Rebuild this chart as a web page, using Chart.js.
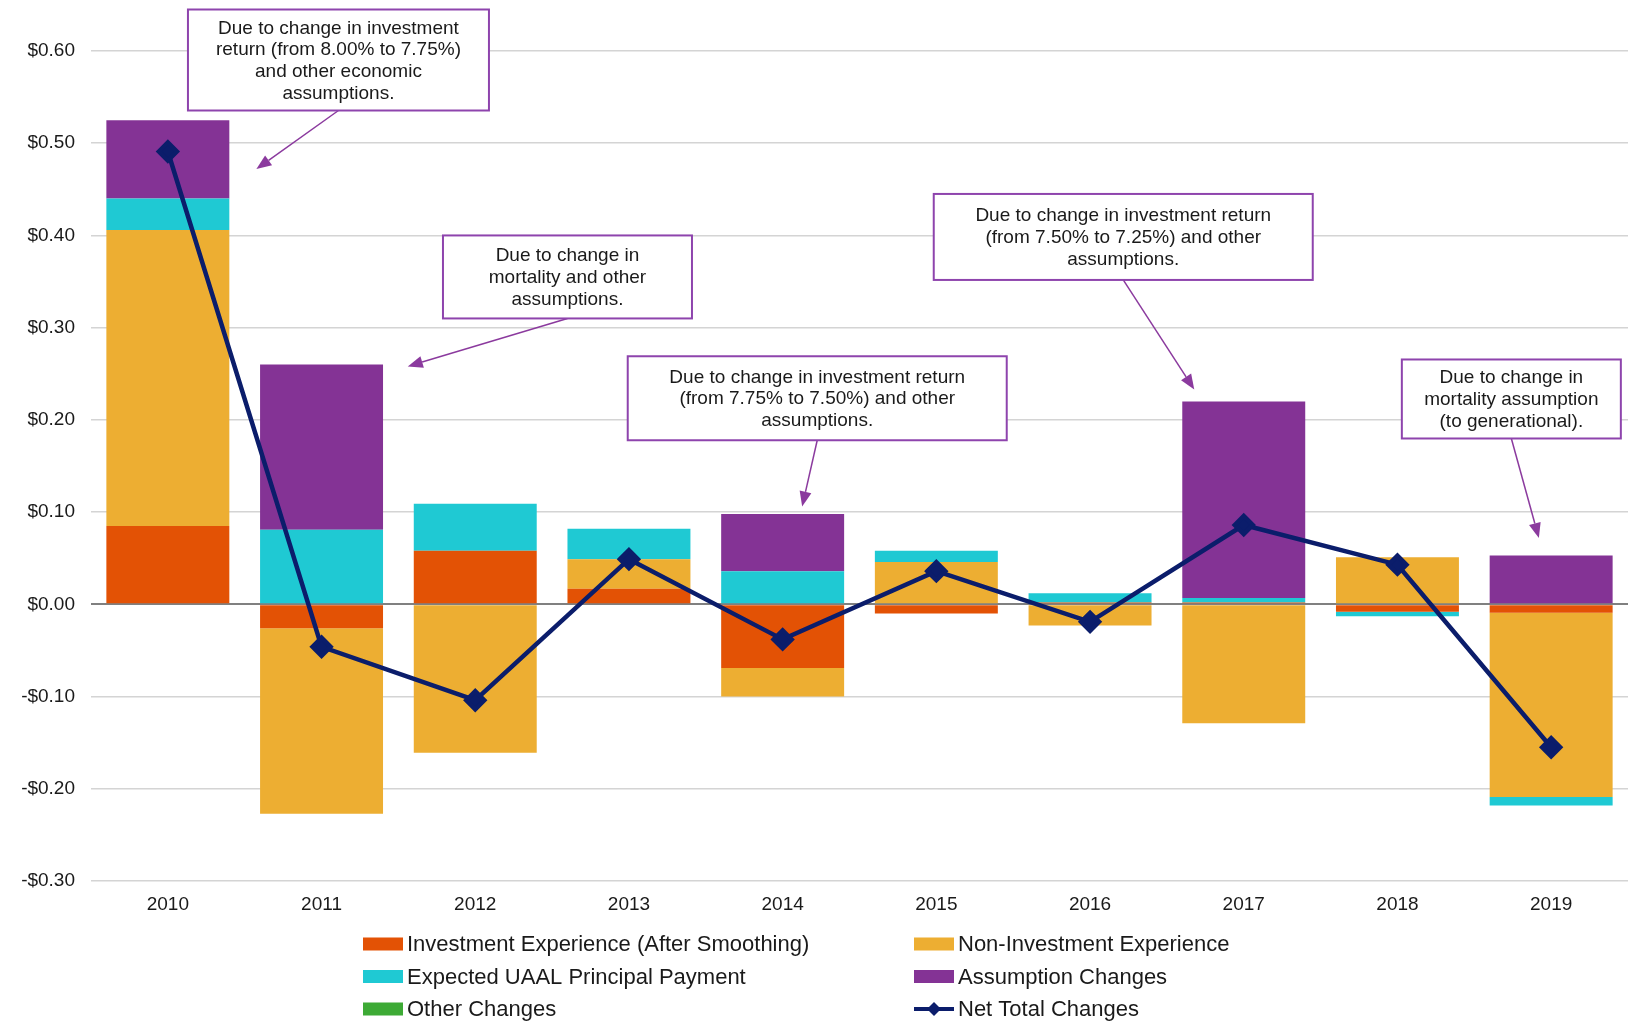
<!DOCTYPE html>
<html>
<head>
<meta charset="utf-8">
<script src="https://cdn.jsdelivr.net/npm/chart.js@4.4.1/dist/chart.umd.min.js"></script>
<style>
  html, body { margin: 0; padding: 0; background: #fff; overflow: hidden; }
  .wrap { position: relative; width: 1628px; height: 1029px; }
  canvas { display: block; }
</style>
</head>
<body>
<div class="wrap"><canvas id="chart"></canvas></div>
<script>
// values, $ per unit
const years = ["2010", "2011", "2012", "2013", "2014", "2015", "2016", "2017", "2018", "2019"];
const investment = [0.085, -0.026, 0.058, 0.017, -0.069, -0.010, 0.002, 0.002, -0.008, -0.009];
const nonInvestment = [0.321, -0.201, -0.161, 0.032, -0.031, 0.046, -0.023, -0.129, 0.051, -0.200];
const uaalPayment = [0.034, 0.081, 0.051, 0.033, 0.036, 0.012, 0.010, 0.005, -0.005, -0.009];
const assumptionChanges = [0.085, 0.179, 0, 0, 0.062, 0, 0, 0.213, 0, 0.053];
const otherChanges = [0, 0, 0, 0, 0, 0, 0, 0, 0, 0];
const netTotal = [0.491, -0.046, -0.104, 0.049, -0.038, 0.036, -0.019, 0.086, 0.043, -0.155];
const yTicks = [-0.3, -0.2, -0.1, 0, 0.1, 0.2, 0.3, 0.4, 0.5, 0.6];

const FONT = "'Liberation Sans', Arial, sans-serif";
const PURPLE_LINE = "#8E44AD";

// callouts: x in category units, y in dollars, target = where the arrow points
const notes = [
    { lines: ["Due to change in investment", "return (from 8.00% to 7.75%)", "and other economic", "assumptions."],
      x: 1.11, y: 0.645, w: 301, h: 101, tx: 0.576, ty: 0.472 },
    { lines: ["Due to change in", "mortality and other", "assumptions."],
      x: 2.60, y: 0.400, w: 249, h: 83, tx: 1.561, ty: 0.258 },
    { lines: ["Due to change in investment return", "(from 7.75% to 7.50%) and other", "assumptions."],
      x: 4.225, y: 0.269, w: 379, h: 84, tx: 4.127, ty: 0.106 },
    { lines: ["Due to change in investment return", "(from 7.50% to 7.25%) and other", "assumptions."],
      x: 6.216, y: 0.445, w: 379, h: 86, tx: 6.678, ty: 0.233 },
    { lines: ["Due to change in", "mortality assumption", "(to generational)."],
      x: 8.741, y: 0.2655, w: 219, h: 79, tx: 8.92, ty: 0.072 }
];

const calloutPlugin = {
    id: "callouts",
    afterDraw(chart) {
        const c = chart.ctx;
        const xs = chart.scales.x, ys = chart.scales.y;
        c.save();
        for (const n of notes) {
            const cx = xs.getPixelForValue(n.x);
            const top = ys.getPixelForValue(n.y);
            const left = cx - n.w / 2;
            const bx = cx, by = top + n.h;
            const tx = xs.getPixelForValue(n.tx), ty = ys.getPixelForValue(n.ty);

            // arrow
            const ang = Math.atan2(ty - by, tx - bx);
            const hl = 15, hw = 6;
            const ex = tx - Math.cos(ang) * hl, ey = ty - Math.sin(ang) * hl;
            c.strokeStyle = "#8B3A9E";
            c.fillStyle = "#8B3A9E";
            c.lineWidth = 1.5;
            c.beginPath();
            c.moveTo(bx, by);
            c.lineTo(ex, ey);
            c.stroke();
            c.beginPath();
            c.moveTo(tx, ty);
            c.lineTo(ex + Math.sin(ang) * hw, ey - Math.cos(ang) * hw);
            c.lineTo(ex - Math.sin(ang) * hw, ey + Math.cos(ang) * hw);
            c.closePath();
            c.fill();

            // box
            c.fillStyle = "#fff";
            c.fillRect(left, top, n.w, n.h);
            c.strokeStyle = PURPLE_LINE;
            c.lineWidth = 2;
            c.strokeRect(left, top, n.w, n.h);

            c.fillStyle = "#1a1a1a";
            c.font = "19px " + FONT;
            c.textAlign = "center";
            c.textBaseline = "middle";
            const lh = 21.8;
            const y0 = top + n.h / 2 - (n.lines.length - 1) * lh / 2 + 1;
            n.lines.forEach((t, i) => c.fillText(t, cx, y0 + i * lh));
        }
        c.restore();
    }
};

// 2-column legend like the original
const legendPlugin = {
    id: "colLegend",
    afterDraw(chart) {
        const c = chart.ctx;
        const ds = chart.data.datasets;
        const colX = [363, 914];
        const rowY = chart.chartArea.bottom + 63;
        c.save();
        c.font = "22px " + FONT;
        c.textBaseline = "middle";
        c.textAlign = "left";
        ds.forEach((d, i) => {
            const x = colX[i % 2];
            const y = rowY + Math.floor(i / 2) * 32.5;
            if (d.type === "line") {
                c.strokeStyle = d.borderColor;
                c.lineWidth = 4;
                c.beginPath();
                c.moveTo(x, y);
                c.lineTo(x + 40, y);
                c.stroke();
                c.fillStyle = d.borderColor;
                c.beginPath();
                c.moveTo(x + 20, y - 7);
                c.lineTo(x + 27, y);
                c.lineTo(x + 20, y + 7);
                c.lineTo(x + 13, y);
                c.closePath();
                c.fill();
            } else {
                c.fillStyle = d.backgroundColor;
                c.fillRect(x, y - 6.5, 40, 13);
            }
            c.fillStyle = "#1a1a1a";
            c.fillText(d.label, x + 44, y + 1);
        });
        c.restore();
    }
};

const fmt = v => (v < -1e-9 ? "-$" : "$") + Math.abs(v).toFixed(2);

new Chart(document.getElementById("chart"), {
    data: {
        labels: years,
        datasets: [
            { type: "bar", label: "Investment Experience (After Smoothing)", data: investment,
              backgroundColor: "#E35205", stack: "parts", order: 1 },
            { type: "bar", label: "Non-Investment Experience", data: nonInvestment,
              backgroundColor: "#EDAE32", stack: "parts", order: 1 },
            { type: "bar", label: "Expected UAAL Principal Payment", data: uaalPayment,
              backgroundColor: "#1FC9D3", stack: "parts", order: 1 },
            { type: "bar", label: "Assumption Changes", data: assumptionChanges,
              backgroundColor: "#843395", stack: "parts", order: 1 },
            { type: "bar", label: "Other Changes", data: otherChanges,
              backgroundColor: "#3DAA35", stack: "parts", order: 1 },
            { type: "line", label: "Net Total Changes", data: netTotal, stack: "net", order: 0,
              borderColor: "#0B1D6B", backgroundColor: "#0B1D6B", borderWidth: 4.5,
              pointStyle: "rectRot", pointRadius: 9, pointHoverRadius: 9,
              pointBackgroundColor: "#0B1D6B", tension: 0 }
        ]
    },
    options: {
        responsive: true,
        maintainAspectRatio: false,
        animation: false,
        // no auto padding: the plot runs right to the edge in the original
        layout: { autoPadding: false, padding: { top: 51, right: 0, left: 0, bottom: 0 } },
        datasets: { bar: { barPercentage: 0.8, categoryPercentage: 1.0 } },
        plugins: {
            legend: { display: false },
            tooltip: { enabled: false }
        },
        scales: {
            x: {
                stacked: true,
                grid: { display: false },
                border: { display: false },
                ticks: { color: "#1a1a1a", font: { family: FONT, size: 19 }, padding: 4, maxRotation: 0 },
                afterFit: s => {
                    s.height = 148;
                    s.paddingLeft = 0;
                    s.paddingRight = 0;
                }
            },
            y: {
                stacked: true,
                min: -0.3,
                max: 0.6,
                afterBuildTicks: s => { s.ticks = yTicks.map(v => ({ value: v })); },
                border: { display: false },
                grid: {
                    drawTicks: false,
                    color: ctx => (Math.abs(ctx.tick.value) < 1e-9 ? "#808080" : "#d4d4d4"),
                    lineWidth: ctx => (Math.abs(ctx.tick.value) < 1e-9 ? 2 : 1.5)
                },
                ticks: {
                    color: "#1a1a1a",
                    font: { family: FONT, size: 19 },
                    padding: 16,
                    callback: v => fmt(v)
                },
                afterFit: s => { s.width = 91; }
            }
        }
    },
    plugins: [calloutPlugin, legendPlugin]
});
</script>
</body>
</html>
